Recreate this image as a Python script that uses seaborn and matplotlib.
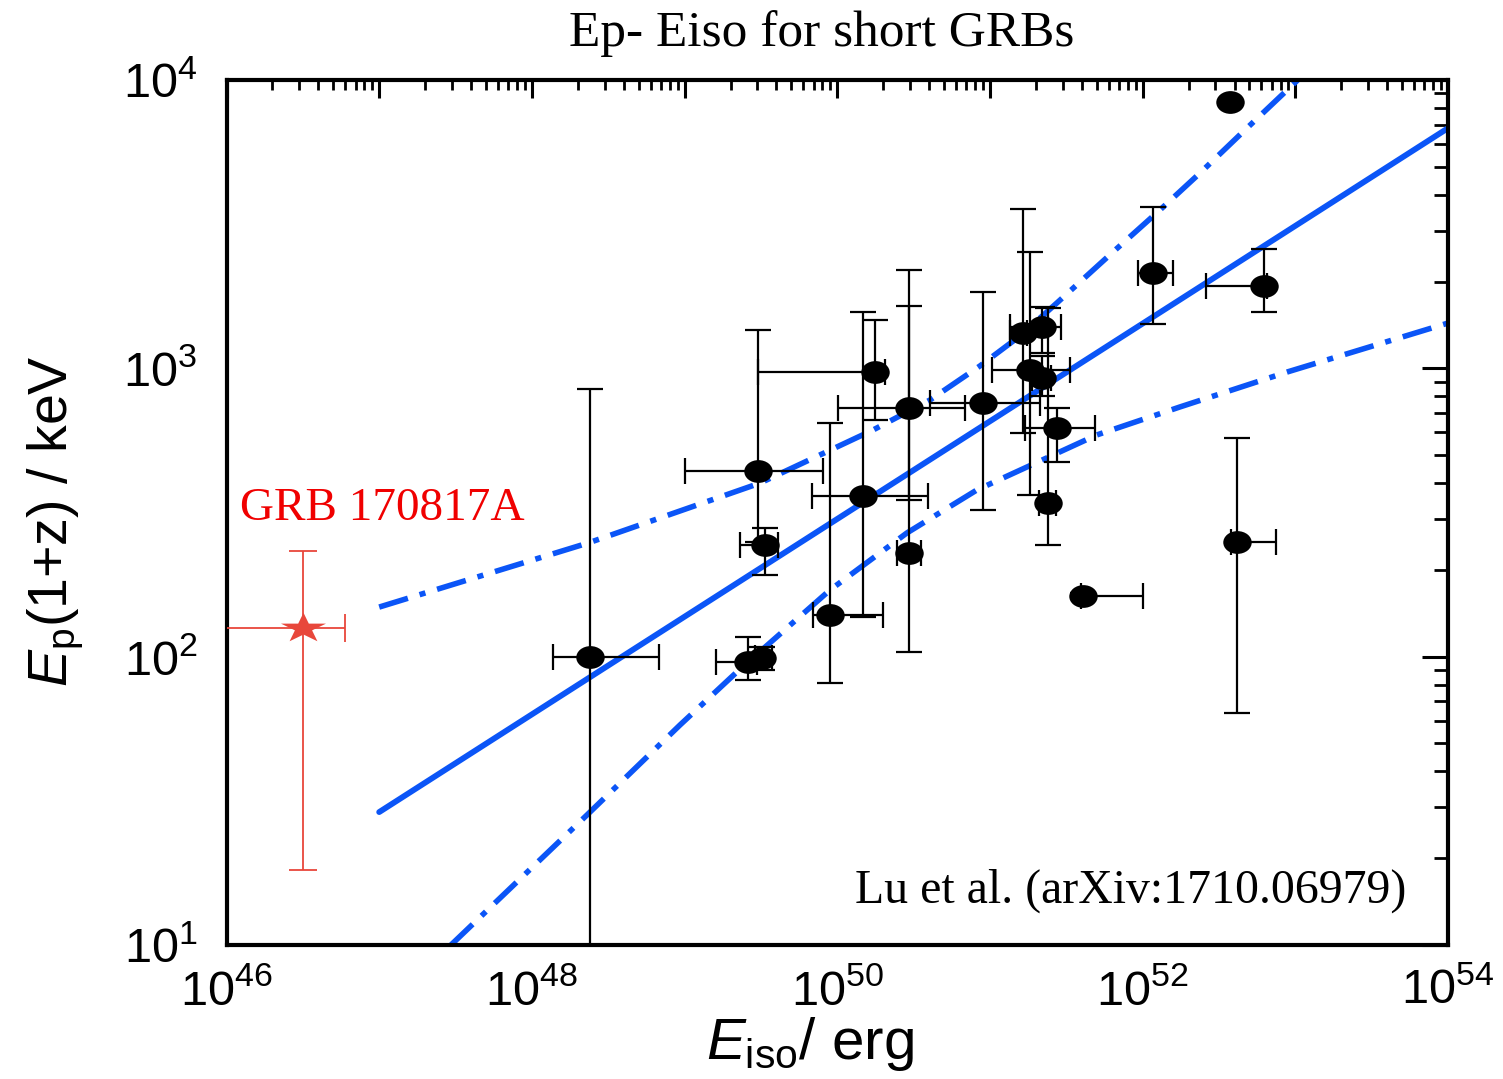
import numpy as np
import pandas as pd
import matplotlib
matplotlib.use("Agg")
import matplotlib.pyplot as plt
import seaborn as sns
from matplotlib.path import Path
from matplotlib.markers import MarkerStyle
from matplotlib.transforms import Affine2D
from matplotlib.ticker import FixedLocator, FuncFormatter, NullFormatter

# ---------------- data ----------------
# short GRBs: E_iso [erg], Ep(1+z) [keV] with asymmetric ranges
eiso    = [2.40e48, 3.03e49, 3.37e49, 2.60e49, 3.21e49, 8.95e49, 1.47e50, 1.77e50,
           2.94e50, 2.94e50, 9.00e50, 1.64e51, 2.19e51, 1.83e51, 2.19e51, 2.75e51,
           2.40e51, 1.17e52, 6.22e52, 4.14e52, 4.06e51, 3.73e52]
eiso_lo = [1.37e48, 1.01e49, 2.30e49, 1.61e49, 2.90e49, 6.93e49, 6.82e49, 3.03e49,
           1.01e50, 2.45e50, 4.05e50, 1.35e51, 1.35e51, 1.03e51, 1.90e51, 1.69e51,
           2.10e51, 9.30e51, 2.59e52, 3.80e52, 3.95e51, 3.73e52]
eiso_hi = [6.80e48, 8.05e49, 4.08e49, 3.00e49, 3.73e49, 1.99e50, 3.93e50, 2.05e50,
           6.85e50, 3.55e50, 2.12e51, 1.75e51, 2.92e51, 3.34e51, 2.50e51, 4.86e51,
           2.70e51, 1.58e52, 6.50e52, 7.43e52, 1.00e52, 3.73e52]
ep      = [100, 440, 244, 96, 99, 139, 361, 971, 728, 229, 759, 1325, 1390, 986, 925,
           621, 341, 2143, 1928, 250, 162, 8390]
ep_lo   = [3, 250, 192, 83, 90, 81, 137, 662, 349, 104, 323, 597, 1130, 364, 800,
           473, 244, 1426, 1566, 64, 158, 8390]
ep_hi   = [847, 1358, 280, 117, 108, 646, 1567, 1473, 1643, 2193, 1841, 3574, 1633,
           2530, 1100, 728, 1617, 3631, 2594, 573, 166, 8390]

# GRB 170817A
grb_eiso, grb_eiso_lo, grb_eiso_hi = [3.17e46], [1e45], [5.97e46]
grb_ep, grb_ep_lo, grb_ep_hi = [126], [18.2], [232]

# best-fit line and confidence band (log10 values)
fit_logE = [47.0, 54.0]
fit_logEp = [1.461, 3.833]
upper_logE = [47.0, 48.367, 49.494, 50.234, 50.607, 50.934, 51.196, 51.439,
              51.805, 52.113, 52.375, 52.657, 53.030]
upper_logEp = [2.172, 2.394, 2.602, 2.786, 2.890, 3.008, 3.112, 3.227,
               3.403, 3.549, 3.677, 3.820, 4.007]
lower_logE = [47.47, 48.361, 48.970, 49.343, 49.952, 50.456, 50.914, 51.700,
              52.244, 52.945, 54.0]
lower_logEp = [1.0, 1.451, 1.763, 1.947, 2.231, 2.429, 2.578, 2.769,
               2.866, 2.987, 3.157]

# axis ticks
x_decades = list(range(46, 55))
y_decades = list(range(1, 5))

# ---------------- style ----------------
sns.set_theme(style="white")
plt.rcParams["font.family"] = ["Liberation Sans", "DejaVu Sans"]
plt.rcParams["mathtext.fontset"] = "custom"
plt.rcParams["mathtext.rm"] = "Liberation Sans"
plt.rcParams["mathtext.it"] = "Liberation Sans:italic"
plt.rcParams["mathtext.bf"] = "Liberation Sans:bold"
plt.rcParams["mathtext.sf"] = "Liberation Sans"

BLUE = "#0b55f7"
RED_STAR = "#e8473b"

fig = plt.figure(figsize=(15.03, 10.79), dpi=100)
ax = fig.add_axes([226.5 / 1503, 1 - 945 / 1079, 1221.5 / 1503, 865 / 1079])
ax.set_xscale("log")
ax.set_yscale("log")

df_fit = pd.DataFrame({"E": np.power(10.0, fit_logE), "Ep": np.power(10.0, fit_logEp)})
df_up = pd.DataFrame({"E": np.power(10.0, upper_logE), "Ep": np.power(10.0, upper_logEp)})
df_lo = pd.DataFrame({"E": np.power(10.0, lower_logE), "Ep": np.power(10.0, lower_logEp)})

dashdot = (0, (5.4, 2.2, 1.1, 2.2))
sns.lineplot(data=df_fit, x="E", y="Ep", ax=ax, color=BLUE, lw=4.2, zorder=2)
sns.lineplot(data=df_up, x="E", y="Ep", ax=ax, color=BLUE, lw=4.0, linestyle=dashdot, zorder=2)
sns.lineplot(data=df_lo, x="E", y="Ep", ax=ax, color=BLUE, lw=4.0, linestyle=dashdot, zorder=2)

# error bars for short GRBs
e = np.array(eiso); el = np.array(eiso_lo); eh = np.array(eiso_hi)
p = np.array(ep); pl = np.array(ep_lo); ph = np.array(ep_hi)
has_err = (eh > el) | (ph > pl)
ax.errorbar(e[has_err], p[has_err],
            xerr=[e[has_err] - el[has_err], eh[has_err] - e[has_err]],
            yerr=[p[has_err] - pl[has_err], ph[has_err] - p[has_err]],
            fmt="none", ecolor="black", elinewidth=1.6, capsize=9.5, capthick=1.6, zorder=3)

ellipse = MarkerStyle(Path.unit_circle().transformed(Affine2D().scale(1.0, 0.8)))
df_pts = pd.DataFrame({"E": e, "Ep": p})
sns.scatterplot(data=df_pts, x="E", y="Ep", ax=ax, marker=ellipse, s=420,
                color="black", edgecolor="black", linewidth=0, zorder=5)

# GRB 170817A
ge = np.array(grb_eiso); gp = np.array(grb_ep)
ax.errorbar(ge, gp,
            xerr=[ge - np.array(grb_eiso_lo), np.array(grb_eiso_hi) - ge],
            yerr=[gp - np.array(grb_ep_lo), np.array(grb_ep_hi) - gp],
            fmt="none", ecolor=RED_STAR, elinewidth=1.3, capsize=10, capthick=1.3, zorder=3)
star = MarkerStyle(Path.unit_regular_star(5, 0.381966).transformed(Affine2D().scale(1.5, 1.0)))
df_grb = pd.DataFrame({"E": ge, "Ep": gp})
sns.scatterplot(data=df_grb, x="E", y="Ep", ax=ax, marker=star, s=1050,
                color=RED_STAR, edgecolor=RED_STAR, linewidth=0, zorder=6)

ax.set_xlim(10.0 ** x_decades[0], 10.0 ** x_decades[-1])
ax.set_ylim(10.0 ** y_decades[0], 10.0 ** y_decades[-1])

# ticks
x_major = [10.0 ** k for k in x_decades]
x_minor = [m * 10.0 ** k for k in x_decades[:-1] for m in range(2, 10)]
y_major = [10.0 ** k for k in y_decades]
y_minor = [m * 10.0 ** k for k in y_decades[:-1] for m in range(2, 10)]
ax.xaxis.set_major_locator(FixedLocator(x_major))
ax.xaxis.set_minor_locator(FixedLocator(x_minor))
ax.yaxis.set_major_locator(FixedLocator(y_major))
ax.yaxis.set_minor_locator(FixedLocator(y_minor))


def xfmt(v, pos):
    k = int(round(np.log10(v)))
    return r"$10^{%d}$" % k if k % 2 == 0 else ""


def yfmt(v, pos):
    k = int(round(np.log10(v)))
    return r"$10^{%d}$" % k


ax.xaxis.set_major_formatter(FuncFormatter(xfmt))
ax.xaxis.set_minor_formatter(NullFormatter())
ax.yaxis.set_major_formatter(FuncFormatter(yfmt))
ax.yaxis.set_minor_formatter(NullFormatter())

ax.tick_params(axis="both", which="both", direction="in", top=True, right=True,
               colors="black", labelsize=35)
ax.tick_params(axis="x", which="major", length=13, width=2.2, pad=17)
ax.tick_params(axis="x", which="minor", length=7.5, width=2.0)
ax.tick_params(axis="y", which="major", length=19, width=2.2, pad=21)
ax.tick_params(axis="y", which="minor", length=10, width=2.0)
for s in ax.spines.values():
    s.set_linewidth(3.0)
    s.set_color("black")
    s.set_visible(True)

ax.set_xlabel(r"$E_{\rm iso}$/ erg", fontsize=42, color="black")
ax.set_ylabel(r"$E_{\rm p}$(1+z) / keV", fontsize=40, color="black")
ax.xaxis.set_label_coords(0.4777, -0.081)
ax.yaxis.set_label_coords(-0.140, 0.49)
ax.yaxis.label.set_verticalalignment("center")

# texts
ax.text(0.011, 0.4913, "GRB 170817A", transform=ax.transAxes, color="#f00000",
        fontsize=34, family=["Liberation Serif", "DejaVu Serif"], va="baseline", ha="left")
ax.text(0.5143, 0.0486, "Lu et al. (arXiv:1710.06979)", transform=ax.transAxes,
        color="black", fontsize=34.5, family=["Liberation Serif", "DejaVu Serif"],
        va="baseline", ha="left")
fig.text(821.5 / 1503, 1 - 34 / 1079, "Ep- Eiso for short GRBs", color="black",
         fontsize=37, family=["Liberation Serif", "DejaVu Serif"], ha="center", va="center")

fig.savefig("out.png", dpi=100)
